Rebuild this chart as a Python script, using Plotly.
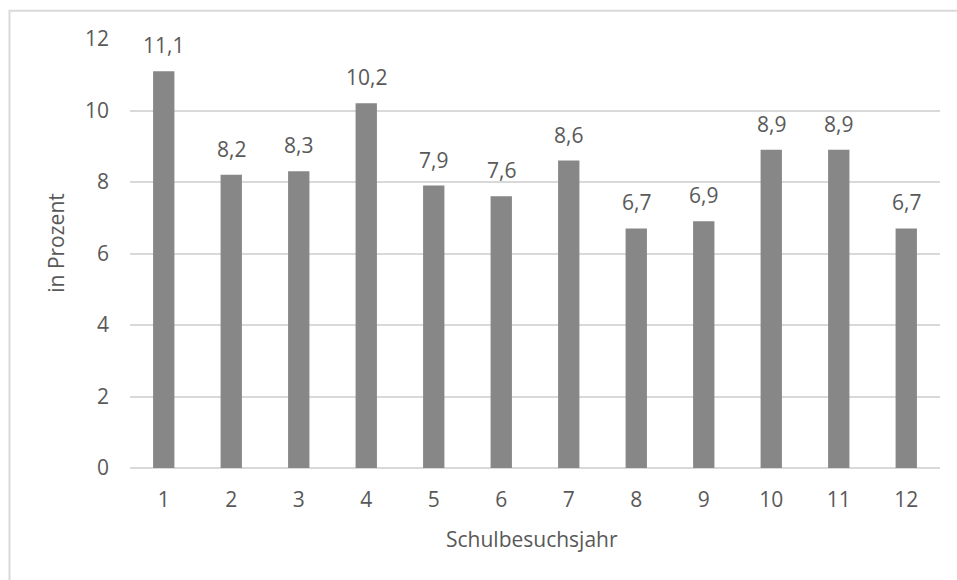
import plotly.graph_objects as go

categories = [1, 2, 3, 4, 5, 6, 7, 8, 9, 10, 11, 12]
values = [11.1, 8.2, 8.3, 10.2, 7.9, 7.6, 8.6, 6.7, 6.9, 8.9, 8.9, 6.7]
labels = ["11,1", "8,2", "8,3", "10,2", "7,9", "7,6", "8,6", "6,7", "6,9", "8,9", "8,9", "6,7"]
y_ticks = [0, 2, 4, 6, 8, 10, 12]

TXT = "#595959"
GRID = "#d9d9d9"
FONT = "Open Sans"
FS = 21

fig = go.Figure()
fig.add_trace(go.Bar(
    x=categories, y=values,
    marker=dict(color="#878787", line=dict(width=0)),
    hoverinfo="skip",
))

annotations = []
for c, v, t in zip(categories, values, labels):
    annotations.append(dict(
        x=c, y=v, xref="x", yref="y", text=t, showarrow=False,
        yanchor="bottom", xanchor="center", yshift=10,
        font=dict(family=FONT, size=FS, color=TXT),
    ))

annotations.append(dict(
    x=0.496, y=-0.128, xref="paper", yref="paper", text="Schulbesuchsjahr",
    showarrow=False, xanchor="center", yanchor="top",
    font=dict(family=FONT, size=FS, color=TXT),
))
annotations.append(dict(
    x=-0.0914, y=0.525, xref="paper", yref="paper", text="in Prozent",
    showarrow=False, xanchor="center", yanchor="middle", textangle=-90,
    font=dict(family=FONT, size=FS, color=TXT),
))

fig.update_layout(
    width=957, height=580,
    margin=dict(l=130, r=17, t=39, b=112),
    paper_bgcolor="white", plot_bgcolor="white",
    bargap=0.684,
    showlegend=False,
    font=dict(family=FONT, size=FS, color=TXT),
    annotations=annotations,
    shapes=[dict(
        type="rect", xref="paper", yref="paper",
        x0=(9.5 - 130) / 810, x1=1.1,
        y0=-0.4, y1=1 + (39.3 - 11) / 428.7,
        line=dict(color=GRID, width=2), fillcolor="rgba(0,0,0,0)",
        layer="below",
    )],
    xaxis=dict(
        range=[0.5, 12.5], tickmode="array", tickvals=categories,
        ticktext=[str(c) for c in categories],
        showgrid=False, zeroline=False, showline=False, ticks="",
        ticklabelstandoff=17,
        tickfont=dict(family=FONT, size=FS, color=TXT),
    ),
    yaxis=dict(
        range=[0, 12], tickmode="array", tickvals=y_ticks,
        ticktext=[str(t) for t in y_ticks],
        showgrid=True, gridcolor=GRID, gridwidth=1.5,
        zeroline=True, zerolinecolor=GRID, zerolinewidth=1.5,
        showline=False, ticks="",
        ticklabelstandoff=20,
        tickfont=dict(family=FONT, size=FS, color=TXT),
    ),
)

fig.write_html("out.html", config={"displayModeBar": False},
               post_script="document.body.style.margin='0px';")
